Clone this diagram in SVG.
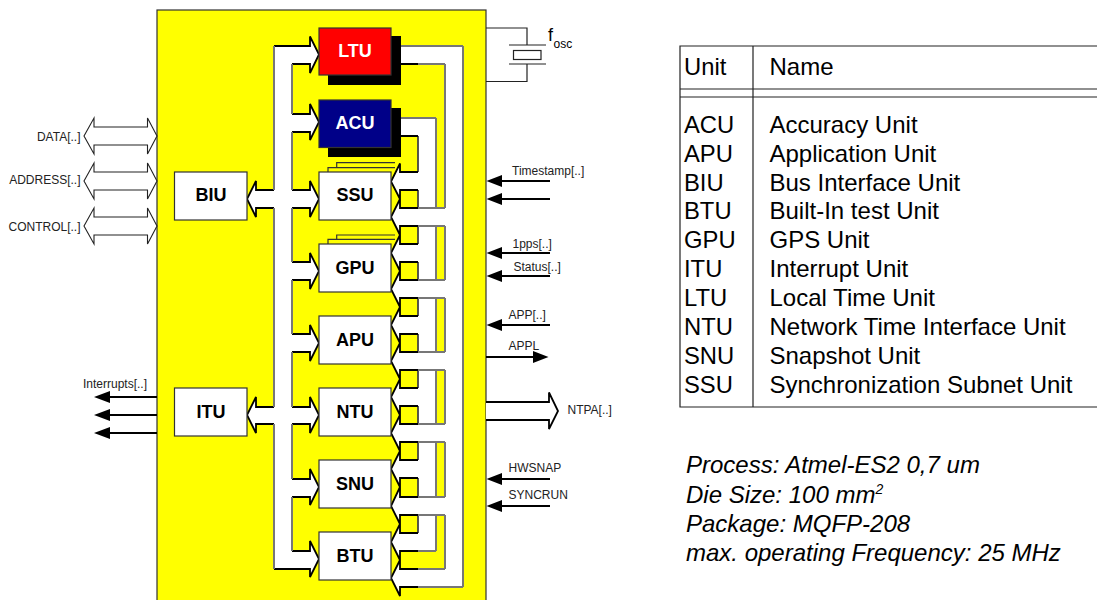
<svg xmlns="http://www.w3.org/2000/svg" width="1097" height="600" viewBox="0 0 1097 600">
<style>
text{font-family:"Liberation Sans",Arial,sans-serif;fill:#000}
.lbl{font-size:12px;fill:#222}
.unit{fill:#fff;stroke:#333;stroke-width:1.2}
.ut{font-size:18px;font-weight:bold;text-anchor:middle}
.w{fill:#fff;stroke:none}
.e{fill:none;stroke:#000;stroke-width:1.8}
.g{fill:none;stroke:#777;stroke-width:2}
.d{fill:none;stroke:#444;stroke-width:1.8}
.a{fill:#fff;stroke:#000;stroke-width:1.8}
.t{fill:none;stroke:#222;stroke-width:1.2}
.s{fill:none;stroke:#000;stroke-width:2}
.h{fill:#000}
.tb{font-size:24px}
.tc{font-size:23.8px}
.it{font-size:24px;font-style:italic}
</style>
<g id="chip"><rect x="157" y="10" width="329" height="595" fill="#ff0" stroke="#333" stroke-width="1.2"/></g>
<g id="connectors">
<g fill="#fff" stroke="#222" stroke-width="1.1">
<path d="M84 136L94 118V127H147.500V118L157 136L147.500 154V145H94V154Z"/>
<path d="M84 181L94 163V172H147.500V163L157 181L147.500 199V190H94V199Z"/>
<path d="M84 226L94 208V217H147.500V208L157 226L147.500 244V235H94V244Z"/>
</g>
<path class="a" stroke-width="2" d="M486 402H549V392.500L558 411L549 429V420H486"/>
<path class="t" d="M486 28H527V45M509 45H546M527 64V81.500H486M509 64H546"/>
<rect x="513.500" y="50.500" width="27.500" height="9" fill="#fff" stroke="#222" stroke-width="1.200"/>
<g class="s"><path d="M157 397H108M157 415H108M157 433H108M550 181H500M550 199H500M550 253H500M550 276H500M550 325H500M486 357H535M550 479H500M550 506H500"/></g>
<g class="h"><path d="M94 397L110 391V403ZM94 415L110 409V421ZM94 433L110 427V439ZM486.500 181L502 175V187ZM486.500 199L502 193V205ZM486.500 253L502 247V259ZM486.500 276L502 270V282ZM486.500 325L502 319V331ZM548.500 357L533 351V363ZM486.500 479L502 473V485ZM486.500 506L502 500V512Z"/></g>
<path fill="none" stroke="#333" stroke-width="1.200" d="M328 172V167.700H395M336.700 167.700V162.700H395M328 244V239.300H395M336.700 239.300V235H395"/>
<rect class="w" x="274" y="46" width="18" height="523"/>
<g class="a">
<path d="M274 46H310V36.500L319 54.500L310 73V64H292"/>
<path d="M292 114H310V104L319 122L310 140V132H292"/>
<path d="M292 190H310V181L319 199L310 217V208H292"/>
<path d="M292 262H310V253L319 271L310 289V280H292"/>
<path d="M292 334H310V325L319 343L310 361V352H292"/>
<path d="M292 407H310V397L319 415L310 433V424H292"/>
<path d="M292 479H310V469L319 487L310 505V497H292"/>
<path d="M292 551H310V541L319 559L310 577V569H274"/>
<path d="M274 190H256V181L247 199L256 217V208H274"/>
<path d="M274 407H256V397L247 415L256 433V424H274"/>
</g>
<path class="g" d="M292 64V114M292 132V190M292 208V262M292 280V334M292 352V407M292 424V479M292 497V551"/>
<path class="g" d="M274 46V190M274 208V407M274 424V569"/>
<path class="w" d="M391 46H463V587H400V569H445V64H391Z"/>
<path class="w" d="M391 118H436V551H400V533H418V136H391Z"/>
<path class="d" d="M418 136V172M418 190V208M418 226V244M418 262V280M418 298V316M418 334V352M418 370V388M418 406V424M418 442V460M418 478V497M418 515V533"/>
<path class="g" d="M436 118V208M436 226V280M436 298V352M436 370V424M436 442V497M436 515V551"/>
<path class="g" d="M445 64V208M445 226V280M445 298V352M445 370V424M445 442V497M445 515V569"/>
<path class="g" d="M463 46V587"/>
<g class="w">
<path d="M418 172H400V163.500L391 181.500L400 199V190H418Z"/>
<path d="M445 208H400V199L391 217L400 235V226H445Z"/>
<path d="M418 244H400V235L391 253L400 271V262H418Z"/>
<path d="M445 280H400V271L391 289L400 307V298H445Z"/>
<path d="M418 316H400V307L391 325L400 343V334H418Z"/>
<path d="M445 352H400V343L391 361L400 379V370H445Z"/>
<path d="M418 388H400V379L391 397L400 415V406H418Z"/>
<path d="M445 424H400V415L391 433L400 451V442H445Z"/>
<path d="M418 460H400V451L391 469L400 487V478H418Z"/>
<path d="M445 497H400V487L391 506L400 524V515H445Z"/>
<path d="M418 533H400V524L391 542L400 560V551H418Z"/>
<path d="M445 569H400V560L391 578L400 596V587H445Z"/>
</g>
<path class="g" d="M391 46H463M418 64H445M391 118H436M418 208H445M418 226H445M418 280H445M418 298H445M418 352H445M418 370H445M418 424H445M418 442H445M418 497H445M418 515H445M418 551H436M418 569H445M418 587H463"/>
<path class="e" d="M391 64H418M391 136H418"/>
<g class="e">
<path d="M418 172H400V163.500L391 181.500L400 199V190H418"/>
<path d="M418 208H400V199L391 217L400 235V226H418"/>
<path d="M418 244H400V235L391 253L400 271V262H418"/>
<path d="M418 280H400V271L391 289L400 307V298H418"/>
<path d="M418 316H400V307L391 325L400 343V334H418"/>
<path d="M418 352H400V343L391 361L400 379V370H418"/>
<path d="M418 388H400V379L391 397L400 415V406H418"/>
<path d="M418 424H400V415L391 433L400 451V442H418"/>
<path d="M418 460H400V451L391 469L400 487V478H418"/>
<path d="M418 497H400V487L391 506L400 524V515H418"/>
<path d="M418 533H400V524L391 542L400 560V551H418"/>
<path d="M418 569H400V560L391 578L400 596V587H418"/>
</g>
</g>
<g id="LTU"><rect x="328" y="36" width="73" height="49" fill="#000"/><rect x="319" y="28" width="72" height="47" fill="#f00" stroke="#333" stroke-width="1.200"/><text class="ut" x="355" y="57" style="fill:#fff">LTU</text></g>
<g id="ACU"><rect x="328" y="108" width="73" height="49" fill="#000"/><rect x="319" y="100" width="72" height="47.500" fill="#008" stroke="#333" stroke-width="1.200"/><text class="ut" x="355" y="129" style="fill:#fff">ACU</text></g>
<g id="SSU"><rect class="unit" x="319" y="172" width="72" height="48"/><text class="ut" x="355" y="201">SSU</text></g>
<g id="GPU"><rect class="unit" x="319" y="244" width="72" height="48"/><text class="ut" x="355" y="274">GPU</text></g>
<g id="APU"><rect class="unit" x="319" y="316" width="72" height="48"/><text class="ut" x="355" y="346">APU</text></g>
<g id="NTU"><rect class="unit" x="319" y="388" width="72" height="48"/><text class="ut" x="355" y="418">NTU</text></g>
<g id="SNU"><rect class="unit" x="319" y="460" width="72" height="48"/><text class="ut" x="355" y="490">SNU</text></g>
<g id="BTU"><rect class="unit" x="319" y="532" width="72" height="48"/><text class="ut" x="355" y="562">BTU</text></g>
<g id="BIU"><rect class="unit" x="174.500" y="172" width="72.500" height="48"/><text class="ut" x="211" y="201">BIU</text></g>
<g id="ITU"><rect class="unit" x="174.500" y="388" width="72.500" height="48"/><text class="ut" x="211" y="418">ITU</text></g>
<g id="labels">
<text class="lbl" x="80.500" y="141" text-anchor="end">DATA[..]</text>
<text class="lbl" x="80.500" y="184" text-anchor="end">ADDRESS[..]</text>
<text class="lbl" x="80.500" y="231" text-anchor="end">CONTROL[..]</text>
<text class="lbl" x="83" y="388">Interrupts[..]</text>
<text class="lbl" x="512" y="175">Timestamp[..]</text>
<text class="lbl" x="512.500" y="248">1pps[..]</text>
<text class="lbl" x="513.500" y="271">Status[..]</text>
<text class="lbl" x="508.500" y="319">APP[..]</text>
<text class="lbl" x="508.500" y="350">APPL</text>
<text class="lbl" x="567.500" y="414">NTPA[..]</text>
<text class="lbl" x="508.500" y="472">HWSNAP</text>
<text class="lbl" x="508.500" y="499">SYNCRUN</text>
<text x="548" y="41" font-size="18">f<tspan font-size="12" dx="0.500" dy="6.500">osc</tspan></text>
</g>
<g id="table">
<path class="t" d="M1097 46H680V407H1097M680 89H1097M680 97H1097M753 46V407"/>
<g class="tc">
<text x="684" y="75">Unit</text>
<text x="684" y="133">ACU</text>
<text x="684" y="162">APU</text>
<text x="684" y="190.500">BIU</text>
<text x="684" y="219">BTU</text>
<text x="684" y="248">GPU</text>
<text x="684" y="277">ITU</text>
<text x="684" y="306">LTU</text>
<text x="684" y="335">NTU</text>
<text x="684" y="364">SNU</text>
<text x="684" y="393">SSU</text>
</g>
<g class="tb">
<text x="769.500" y="75">Name</text>
<text x="769.500" y="133">Accuracy Unit</text>
<text x="769.500" y="162">Application Unit</text>
<text x="769.500" y="190.500">Bus Interface Unit</text>
<text x="769.500" y="219">Built-In test Unit</text>
<text x="769.500" y="248">GPS Unit</text>
<text x="769.500" y="277">Interrupt Unit</text>
<text x="769.500" y="306">Local Time Unit</text>
<text x="769.500" y="335">Network Time Interface Unit</text>
<text x="769.500" y="364">Snapshot Unit</text>
<text x="769.500" y="393">Synchronization Subnet Unit</text>
</g>
</g>
<g id="notes" class="it">
<text x="686" y="473">Process: Atmel-ES2 0,7 um</text>
<text x="686" y="503">Die Size: 100 mm<tspan font-size="14" dy="-9">2</tspan></text>
<text x="686" y="532">Package: MQFP-208</text>
<text x="686" y="561">max. operating Frequency: 25 MHz</text>
</g>
</svg>
